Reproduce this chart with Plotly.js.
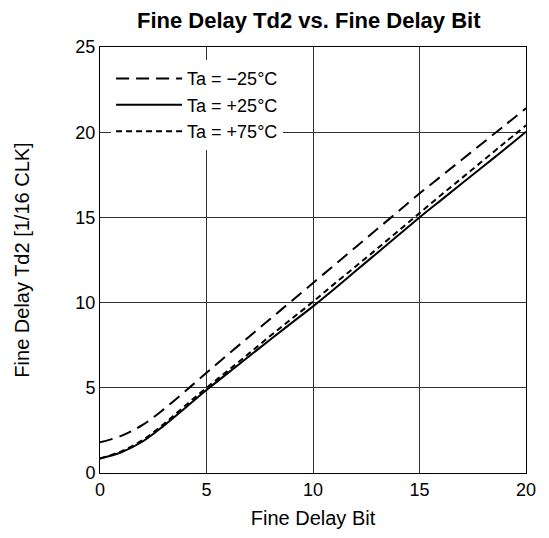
<!DOCTYPE html>
<html>
<head>
<meta charset="utf-8">
<script src="https://cdn.plot.ly/plotly-3.0.1.min.js"></script>
<style>html,body{margin:0;padding:0;background:#fff;}#chart{width:549px;height:538px;}</style>
</head>
<body>
<div id="chart"></div>
<script>
const bits = [0,1,2,3,4,5,6,7,8,9,10,11,12,13,14,15,16,17,18,19,20];
const tdMinus25 = [1.8,2.18,2.82,3.75,4.8,5.88,6.95,8.0,9.05,10.1,11.15,12.2,13.25,14.3,15.35,16.4,17.4,18.4,19.4,20.4,21.4];
const tdPlus25  = [0.85,1.22,1.85,2.78,3.82,4.87,5.86,6.85,7.84,8.81,9.78,10.8,11.85,12.9,13.95,15.0,16.0,17.0,18.0,19.0,20.03];
const tdPlus75  = [0.85,1.27,1.93,2.88,3.95,5.0,6.0,7.02,8.05,9.05,10.05,11.1,12.12,13.15,14.2,15.25,16.3,17.32,18.35,19.38,20.4];
const seriesNames = ["Ta = \u221225\u00b0C","Ta = +25\u00b0C","Ta = +75\u00b0C"];
const xTicks = [0,5,10,15,20];
const yTicks = [0,5,10,15,20,25];

const font = "Liberation Sans, Arial, sans-serif";
const traces = [
  {x: bits, y: tdMinus25, name: seriesNames[0], mode: "lines", line: {color: "#000", width: 2, dash: "13px,7px", shape: "spline"}},
  {x: bits, y: tdPlus25, name: seriesNames[1], mode: "lines", line: {color: "#000", width: 2, shape: "spline"}},
  {x: bits, y: tdPlus75, name: seriesNames[2], mode: "lines", line: {color: "#000", width: 2, dash: "6px,4px", shape: "spline"}}
];
const axisCommon = {showline: true, mirror: true, linecolor: "#000", linewidth: 1, showgrid: true, gridcolor: "#333", gridwidth: 1, zeroline: false, ticks: "", tickfont: {family: font, size: 18, color: "#000"}};
const layout = {
  width: 549, height: 538,
  margin: {l: 100, r: 23, t: 47, b: 65},
  paper_bgcolor: "#fff", plot_bgcolor: "#fff",
  title: {text: "<b>Fine Delay Td2 vs. Fine Delay Bit</b>", font: {family: font, size: 22, color: "#000"}, xref: "paper", x: 0.49, xanchor: "center", y: 0.963, yanchor: "middle"},
  xaxis: Object.assign({}, axisCommon, {range: [0, 20], tickvals: xTicks, title: {text: "Fine Delay Bit", font: {family: font, size: 20, color: "#000"}, standoff: 12}}),
  yaxis: Object.assign({}, axisCommon, {range: [0, 25], tickvals: yTicks, ticklabelstandoff: 0, title: {text: "Fine Delay Td2 [1/16 CLK]", font: {family: font, size: 20, color: "#000"}, standoff: 40}}),
  showlegend: true,
  legend: {x: 0.026, y: 0.969, xanchor: "left", yanchor: "top", bgcolor: "#fff", borderwidth: 0, itemwidth: 66, font: {family: font, size: 18, color: "#000"}, tracegroupgap: 0}
};
Plotly.newPlot("chart", traces, layout, {displayModeBar: false, staticPlot: true});
</script>
</body>
</html>
